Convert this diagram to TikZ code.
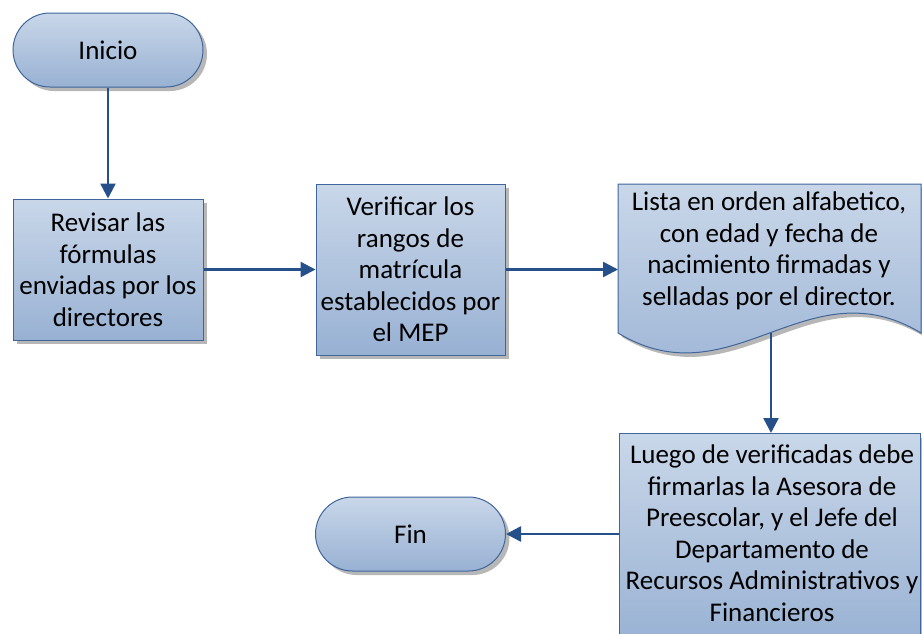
\documentclass[tikz,border=0pt]{standalone}
\usepackage{fontspec}
\setmainfont{Carlito}
\usetikzlibrary{shapes.misc,arrows.meta,shadows}
\definecolor{fillTop}{HTML}{C9D7E9}
\definecolor{fillBot}{HTML}{98B1D3}
\definecolor{edgec}{HTML}{3F659B}
\definecolor{arrowc}{HTML}{25508A}
\tikzset{
  sh/.style={drop shadow={shadow xshift=4pt,shadow yshift=-4pt,fill=black!40,opacity=0.7}},
  shapefill/.style={top color=fillTop,bottom color=fillBot,draw=edgec,line width=1pt,sh},
  labelfont/.style={font=\fontsize{27}{31.5}\selectfont},
  term/.style={shapefill,rounded rectangle,minimum width=190pt,minimum height=74pt,inner sep=0pt,labelfont},
  proc/.style={shapefill,rectangle,inner sep=0pt,align=center,labelfont},
  txt/.style={align=center,labelfont,inner sep=0pt},
  flow/.style={draw=arrowc,line width=2.5pt,-{Triangle[width=15pt,length=15pt]}}
}
\begin{document}
\begin{tikzpicture}[x=1pt,y=-1pt]
\useasboundingbox (0,0) rectangle (922,633);
\clip (0,0) rectangle (922,633);
% Inicio
\node[term] (inicio) at (108,50) {Inicio};
% Revisar
\node[proc,minimum width=190pt,minimum height=141pt] (revisar) at (108,269.5)
  {Revisar las\\fórmulas\\enviadas por los\\directores};
% Verificar
\node[proc,minimum width=189pt,minimum height=171pt] (verificar) at (410.5,269.5)
  {Verificar los\\rangos de\\matrícula\\establecidos por\\el MEP};
% Lista (document shape)
\path[shapefill] (618,184) -- (921,184) -- (921,333)
  .. controls (807,264) and (732,402) .. (618,333) -- cycle;
\node[txt] (lista) at (769,251)
  {Lista en orden alfabetico,\\con edad y fecha de\\nacimiento firmadas y\\selladas por el director.};
\coordinate (listabottom) at (771,333);
% Luego
\node[proc,minimum width=301pt,minimum height=214pt,anchor=north west] (luego) at (619,433) {};
\node[txt] (luegotxt) at (772,533)
  {Luego de verificadas debe\\firmarlas la Asesora de\\Preescolar, y el Jefe del\\Departamento de\\Recursos Administrativos y\\Financieros};
% Fin
\node[term] (fin) at (410.5,534) {Fin};
% Connectors
\draw[flow] (inicio.south) -- (revisar.north);
\draw[flow] (revisar.east) -- (verificar.west);
\draw[flow] (verificar.east) -- (618,269.5);
\draw[flow] (listabottom) -- (luego.north -| listabottom);
\draw[flow] (luego.west |- fin) -- (fin.east);
\end{tikzpicture}
\end{document}
